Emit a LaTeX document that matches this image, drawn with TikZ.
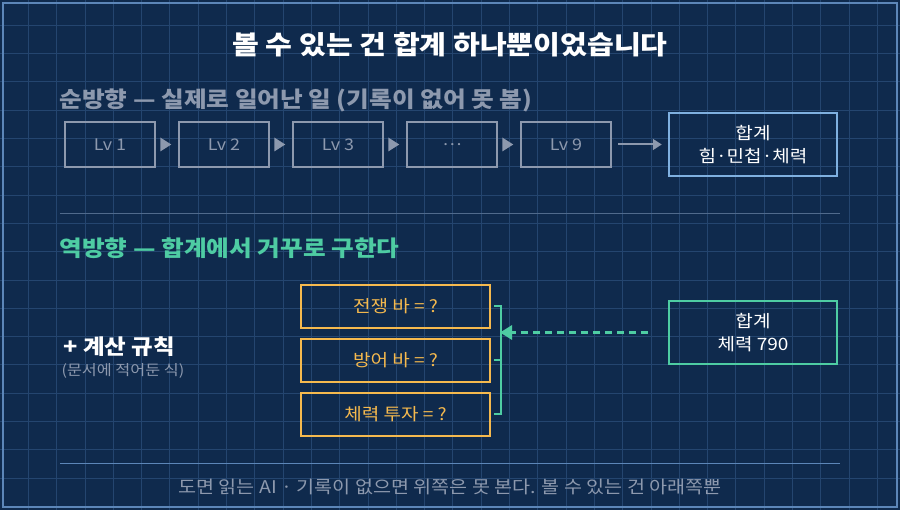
\documentclass[tikz,border=0pt]{standalone}
\usepackage{fontspec}
\setmainfont[FakeStretch=1.12]{Noto Sans CJK KR}
\usetikzlibrary{arrows.meta}
\definecolor{bgblue}{HTML}{0F2A4D}
\definecolor{gridblue}{HTML}{24456F}
\definecolor{frameblue}{HTML}{5C86B8}
\definecolor{lvgray}{HTML}{8D99AE}
\definecolor{sumblue}{HTML}{7FB0E0}
\definecolor{mint}{HTML}{4ECCA3}
\definecolor{amber}{HTML}{F5B94E}
\tikzset{
  lvbox/.style={draw=lvgray, line width=2.5pt, minimum width=90pt, minimum height=45pt, text=lvgray, font=\fontsize{16}{18}\selectfont},
  sumbox/.style={line width=2.5pt, minimum width=168pt, minimum height=63pt, text=white, align=center, font=\fontsize{17}{23}\selectfont},
  qbox/.style={draw=amber, line width=2.5pt, minimum width=189pt, minimum height=43pt, text=amber, font=\fontsize{17}{19}\selectfont},
  head/.style={anchor=west, font=\bfseries\fontsize{22}{25}\selectfont},
  lvstep/.style={-{Triangle[length=9pt,width=11pt]}, lvgray, line width=2pt}
}
\begin{document}
\begin{tikzpicture}[x=1pt,y=-1pt]
  \useasboundingbox (0,0) rectangle (900,510);
  % background and grid
  \fill[bgblue] (0,0) rectangle (900,510);
  \foreach \k in {1,...,31} \draw[gridblue, line width=0.8pt] (\k*28.3,0) -- (\k*28.3,510);
  \foreach \k in {1,...,17} \draw[gridblue, line width=0.8pt] (0,\k*28.3-3) -- (900,\k*28.3-3);
  \draw[frameblue, line width=1.5pt] (3,3) rectangle (897,507);

  % title
  \node[font=\bfseries\fontsize{26}{30}\selectfont, text=white] (title) at (450,45) {볼 수 있는 건 합계 하나뿐이었습니다};

  % forward row
  \node[head, text=lvgray] (fwdhead) at (56,100) {순방향 — 실제로 일어난 일 (기록이 없어 못 봄)};
  \node[lvbox] (lv1) at (110,144.5) {Lv 1};
  \node[lvbox] (lv2) at (224,144.5) {Lv 2};
  \node[lvbox] (lv3) at (338,144.5) {Lv 3};
  \node[lvbox] (lvd) at (452,144.5) {…};
  \node[lvbox] (lv9) at (566,144.5) {Lv 9};
  \node[sumbox, draw=sumblue] (sumall) at (753,144.5) {합계\\힘·민첩·체력};
  \foreach \a in {lv1, lv2, lv3, lvd}
    \fill[lvgray] ([xshift=4pt,yshift=-7pt]\a.east) -- ([xshift=4pt,yshift=7pt]\a.east) -- ([xshift=15pt]\a.east) -- cycle;
  \draw[lvstep] ([xshift=6pt]lv9.east) -- ([xshift=-6pt]sumall.west);

  % separator
  \draw[gridblue!80!white, line width=1pt] (60,214) -- (840,214);

  % backward part
  \node[head, text=mint] (bwdhead) at (56,248) {역방향 — 합계에서 거꾸로 구한다};
  \node[qbox] (qwar) at (395.5,306.5) {전쟁 바 = ?};
  \node[qbox] (qdef) at (395.5,360.5) {방어 바 = ?};
  \node[qbox] (qhp) at (395.5,414.5) {체력 투자 = ?};
  \node[sumbox, draw=mint] (sumhp) at (753,332.5) {합계\\체력 790};
  \draw[mint, line width=2pt] ([xshift=3pt]qwar.east) -| ([xshift=10pt]qhp.east) -- ([xshift=3pt]qhp.east);
  \draw[mint, line width=2pt] ([xshift=3pt]qdef.east) -- ([xshift=10pt]qdef.east);
  \coordinate (brk) at (500,332.5);
  \draw[mint, line width=3pt, dash pattern=on 7pt off 5pt, -{Triangle[length=12pt,width=14pt]}] ([xshift=-20pt]sumhp.west) -- (brk);

  \node[anchor=west, text=white, font=\bfseries\fontsize{21}{24}\selectfont] (rule) at (60,347) {+ 계산 규칙};
  \node[anchor=west, text=lvgray, font=\fontsize{14.5}{16}\selectfont] (rulenote) at (58,371) {(문서에 적어둔 식)};

  % footer
  \draw[frameblue, line width=1pt] (60,464) -- (840,464);
  \node[text=lvgray, font=\fontsize{17.5}{20}\selectfont] (foot) at (450,487) {도면 읽는 AI · 기록이 없으면 위쪽은 못 본다. 볼 수 있는 건 아래쪽뿐};
\end{tikzpicture}
\end{document}
